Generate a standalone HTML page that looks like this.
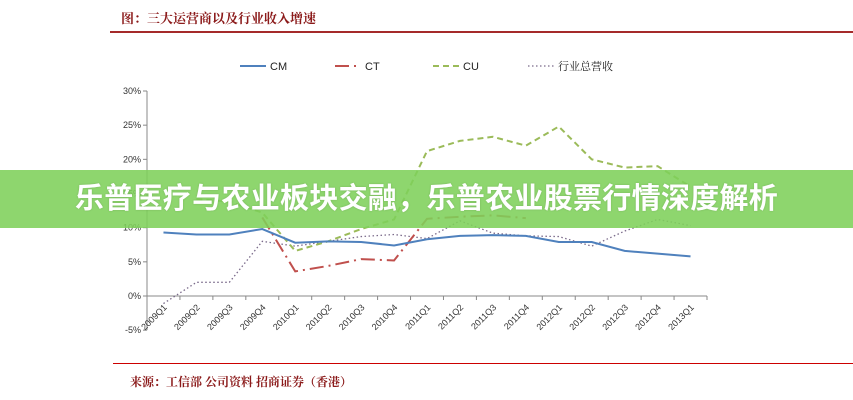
<!DOCTYPE html>
<html><head><meta charset="utf-8"><style>
body{margin:0;width:853px;height:400px;background:#fff;overflow:hidden;position:relative;font-family:"Liberation Sans","Noto Serif CJK SC",sans-serif}
.t{position:absolute;color:#8b1a1a;font-family:"Noto Serif CJK SC","WenQuanYi Zen Hei",serif;font-weight:bold}
#band{position:absolute;left:0;top:170px;width:853px;height:58px;background:rgba(126,208,90,0.88);color:#fff;font:bold 29px "Liberation Sans","Noto Sans CJK SC",sans-serif;text-align:center;line-height:58px;letter-spacing:0.3px;text-shadow:0 0 2px rgba(0,0,0,0.15)}
</style></head><body>
<div class="t" style="left:121px;top:8px;font-size:13px">图：三大运营商以及行业收入增速</div>
<div style="position:absolute;left:110px;top:31px;width:743px;height:2px;background:#a52a2a"></div>
<svg id="c" width="853" height="400" style="position:absolute;left:0;top:0"></svg>
<div style="position:absolute;left:113px;top:363px;width:740px;height:1px;background:#c00"></div>
<div class="t" style="left:130px;top:373px;font-size:12px">来源：工信部 公司资料 招商证券（香港）</div>
<div id="band">乐普医疗与农业板块交融，乐普农业股票行情深度解析</div>
<script>
const categories=["2009Q1","2009Q2","2009Q3","2009Q4","2010Q1","2010Q2","2010Q3","2010Q4","2011Q1","2011Q2","2011Q3","2011Q4","2012Q1","2012Q2","2012Q3","2012Q4","2013Q1"];
const cmValues=[9.3,9.0,9.0,9.8,7.8,8.0,7.9,7.4,8.3,8.8,8.9,8.8,7.9,7.9,6.6,6.2,5.8];
const ctValues=[null,null,null,11.5,3.6,4.4,5.4,5.2,11.3,11.6,11.8,11.4,null,null,null,null,null];
const cuValues=[null,14.2,13.8,12.2,6.6,8.0,9.8,11.2,21.2,22.7,23.3,22.0,24.8,20.0,18.8,19.0,16.0];
const industryValues=[-1.1,2.0,2.0,8.0,7.3,8.0,8.7,9.0,8.4,11.0,9.2,8.8,8.7,7.3,9.5,11.2,10.3];
const yTicks=[-5,0,5,10,15,20,25,30];
const svg=document.getElementById('c'),NS='http://www.w3.org/2000/svg';
const x0=147,x1=707,yTop=91,yZero=296;
const step=(x1-x0)/categories.length;
const X=i=>x0+step*(i+0.5);
const Y=v=>yZero-(v/30)*(yZero-yTop);
function mk(t,a){const e=document.createElementNS(NS,t);for(const k in a)e.setAttribute(k,a[k]);svg.appendChild(e);return e;}
let e=mk('line',{x1:x0,y1:Y(-5),x2:x0,y2:Y(30),stroke:'#888'});


e=mk('line',{x1:x0,y1:Y(0),x2:x1,y2:Y(0),stroke:'#888'});


yTicks.forEach(v=>{
 mk('line',{x1:x0-4,y1:Y(v),x2:x0,y2:Y(v),stroke:'#888'});
 const t=mk('text',{x:x0-6,y:Y(v)+3,'text-anchor':'end','font-size':9,fill:'#333'});t.textContent=v+'%';
 
 
});
categories.forEach((c,i)=>{
 const tx=x0+step*(i+1);
 mk('line',{x1:tx,y1:Y(0),x2:tx,y2:Y(0)+4,stroke:'#888'});
 const t=mk('text',{x:X(i)+4,y:Y(0)+12,'text-anchor':'end','font-size':9,fill:'#333',transform:`rotate(-45 ${X(i)+4} ${Y(0)+12})`});t.textContent=c;
 
 
});
function series(vals,color,w,dash,name){
 let d='',pen=false;
 vals.forEach((v,i)=>{if(v==null){pen=false;return;}d+=(pen?'L':'M')+X(i)+' '+Y(v)+' ';pen=true;});
 const p=mk('path',{d:d,fill:'none',stroke:color,'stroke-width':w,'stroke-dasharray':dash});
 
 
}
series(industryValues,'#7a6a8a',1.3,'1.5 2.5','industry-line');
series(cuValues,'#9bbb59',2,'6 4','cu-line');
series(ctValues,'#c0504d',2,'14 5 2 5','ct-line');
series(cmValues,'#4f81bd',2,'','cm-line');
const legend=[['CM','#4f81bd','',2],['CT','#c0504d','14 5 2 5',2],['CU','#9bbb59','6 4',2],['行业总营收','#7a6a8a','1.5 2.5',1.3]];
const lx=[240,335,433,528];
legend.forEach((l,i)=>{
 const g=mk('line',{x1:lx[i],y1:66,x2:lx[i]+26,y2:66,stroke:l[1],'stroke-width':l[3],'stroke-dasharray':l[2]});
 
 
 const t=mk('text',{x:lx[i]+30,y:70,'font-size':11,fill:'#222'});t.textContent=l[0];
 
 
});
</script>
</body></html>
